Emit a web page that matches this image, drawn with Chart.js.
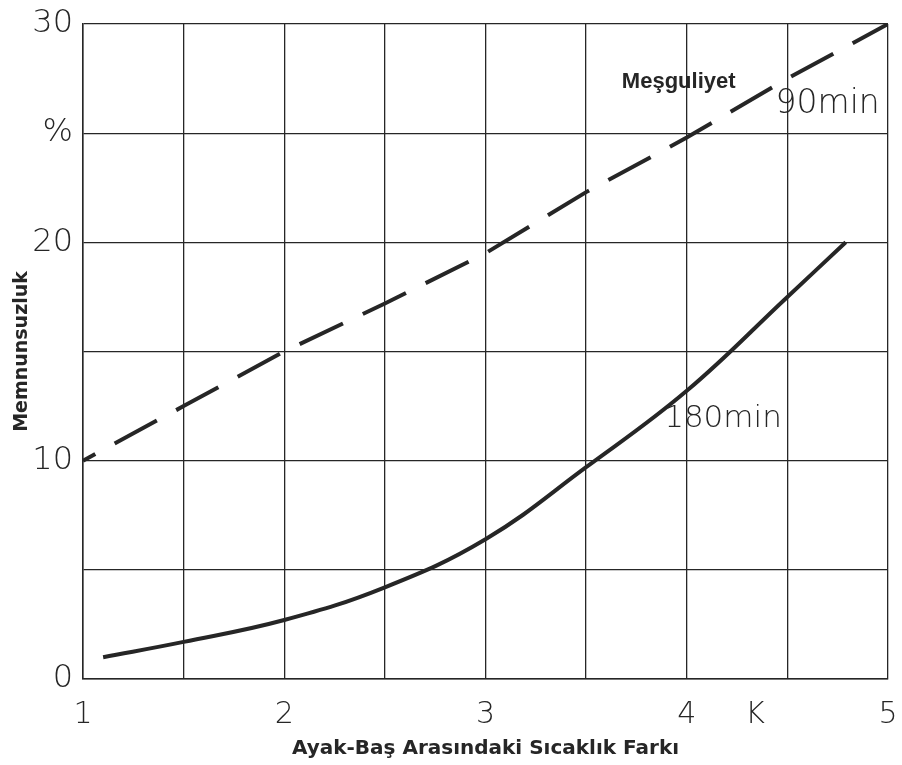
<!DOCTYPE html>
<html>
<head>
<meta charset="utf-8">
<script src="https://cdn.jsdelivr.net/npm/chart.js@4.4.1/dist/chart.umd.min.js"></script>
<style>
  html, body { margin: 0; padding: 0; background: #fff; }
  #wrap { width: 902px; height: 765px; }
</style>
</head>
<body>
<div id="wrap"><canvas id="chart" width="902" height="765"></canvas></div>
<script>
// data
const xValues90 = [1, 1.5, 2, 2.5, 3, 3.5, 4, 4.5, 5];
const yValues90 = [10, 12.5, 15, 17.2, 19.5, 22.3, 24.8, 27.5, 30];

const xValues180 = [1.1, 1.5, 2, 2.5, 3, 3.5, 4, 4.5, 4.79];
const yValues180 = [1.0, 1.7, 2.7, 4.2, 6.4, 9.7, 13.2, 17.5, 20];

const xTickLabels = { 1: '1', 2: '2', 3: '3', 4: '4', 5: '5' };
const yTickLabels = { 0: '0', 10: '10', 20: '20', 25: '%', 30: '30' };

const ink = '#262626';
const thinFont = "'DejaVu Sans', 'Roboto', sans-serif";
const boldFont = "'Liberation Sans', Arial, sans-serif";
const wideBold = "'DejaVu Sans', sans-serif";

const toPoints = (xs, ys) => xs.map((x, i) => ({ x: x, y: ys[i] }));

// text notes on the chart (labels of the curves, unit K)
const notesPlugin = {
    id: 'notes',
    afterDraw(chart) {
        const { ctx, scales: { x, y }, chartArea } = chart;
        ctx.save();
        ctx.fillStyle = ink;
        ctx.textAlign = 'center';
        ctx.textBaseline = 'middle';

        ctx.font = 'bold 22px ' + boldFont;
        ctx.fillText('Meşguliyet', x.getPixelForValue(3.96), y.getPixelForValue(27.35));

        ctx.font = '200 33px ' + thinFont;
        ctx.fillText('90min', x.getPixelForValue(4.7), y.getPixelForValue(26.3));
        ctx.font = '200 31px ' + thinFont;
        ctx.fillText('180min', x.getPixelForValue(4.18), y.getPixelForValue(11.9));

        ctx.font = '200 30px ' + thinFont;
        ctx.fillText('K', x.getPixelForValue(4.34), chartArea.bottom + 36);
        ctx.restore();
    }
};

const ctx = document.getElementById('chart').getContext('2d');

new Chart(ctx, {
    type: 'scatter',
    data: {
        datasets: [{
            label: '90min',
            data: toPoints(xValues90, yValues90),
            showLine: true,
            borderColor: ink,
            borderWidth: 4,
            borderDash: [48, 22],
            borderDashOffset: 34,
            pointRadius: 0,
            tension: 0
        }, {
            label: '180min',
            data: toPoints(xValues180, yValues180),
            showLine: true,
            borderColor: ink,
            borderWidth: 4,
            pointRadius: 0,
            tension: 0.4
        }]
    },
    options: {
        responsive: false,
        animation: false,
        layout: { padding: { top: 24, right: 14, left: 0, bottom: 0 } },
        plugins: {
            legend: { display: false },
            tooltip: { enabled: false }
        },
        scales: {
            x: {
                type: 'linear',
                min: 1,
                max: 5,
                afterFit: (s) => { s.height = 86; s.paddingLeft = 0; s.paddingRight = 0; },
                border: { color: ink, width: 1.5 },
                grid: { color: ink, lineWidth: 1.3, drawTicks: false },
                ticks: {
                    stepSize: 0.5,
                    autoSkip: false,
                    maxRotation: 0,
                    padding: 18,
                    color: ink,
                    font: { family: thinFont, size: 30, weight: '200' },
                    callback: (v) => xTickLabels[v] || ''
                },
                title: {
                    display: true,
                    text: 'Ayak-Baş Arasındaki Sıcaklık Farkı',
                    color: ink,
                    font: { family: wideBold, size: 20, weight: 'bold' },
                    padding: { top: 0, bottom: 4 }
                }
            },
            y: {
                type: 'linear',
                min: 0,
                max: 30,
                afterFit: (s) => { s.width = 83; s.paddingTop = 0; s.paddingBottom = 0; },
                border: { color: ink, width: 1.5 },
                grid: { color: ink, lineWidth: 1.3, drawTicks: false },
                ticks: {
                    stepSize: 5,
                    autoSkip: false,
                    padding: 10,
                    color: ink,
                    font: { family: thinFont, size: 32, weight: '200' },
                    callback: (v) => yTickLabels[v] || ''
                },
                title: {
                    display: true,
                    text: 'Memnunsuzluk',
                    color: ink,
                    font: { family: wideBold, size: 19, weight: 'bold' },
                    padding: { top: 11, bottom: 0 }
                }
            }
        }
    },
    plugins: [notesPlugin]
});
</script>
</body>
</html>
